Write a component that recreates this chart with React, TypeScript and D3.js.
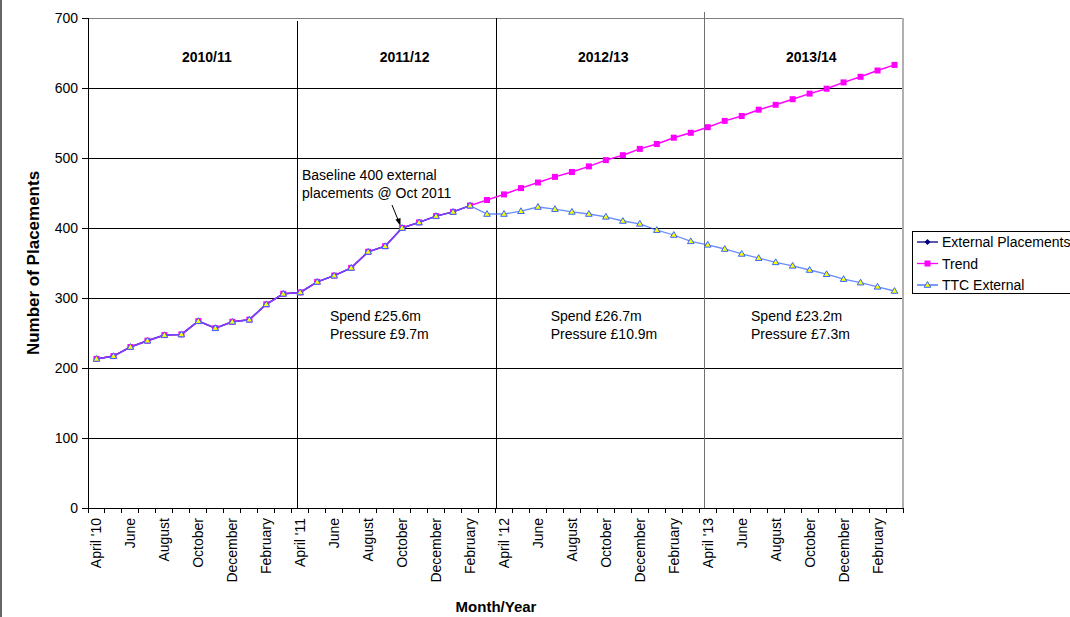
import React from "react";
import * as d3 from "d3";

const months: string[] = [
  "April '10", "May", "June", "July", "August", "September", "October", "November", "December", "January", "February", "March",
  "April '11", "May", "June", "July", "August", "September", "October", "November", "December", "January", "February", "March",
  "April '12", "May", "June", "July", "August", "September", "October", "November", "December", "January", "February", "March",
  "April '13", "May", "June", "July", "August", "September", "October", "November", "December", "January", "February", "March",
];

const externalPlacements: number[] = [
  213, 217, 230, 239, 247, 248, 267, 257, 266, 269, 291, 306,
  308, 323, 332, 343, 366, 374, 400, 408, 417, 423, 432,
];

const trend: number[] = [
  213, 217, 230, 239, 247, 248, 267, 257, 266, 269, 291, 306,
  308, 323, 332, 343, 366, 374, 400, 408, 417, 423, 432, 440,
  448, 457, 465, 473, 480, 488, 497, 504, 513, 520, 529, 536,
  544, 553, 560, 569, 576, 584, 592, 599, 608, 616, 625, 633,
];

const ttcExternal: number[] = [
  213, 217, 230, 239, 247, 248, 267, 257, 266, 269, 291, 306,
  308, 323, 332, 343, 366, 374, 400, 408, 417, 423, 432, 420,
  420, 424, 430, 427, 423, 420, 416, 410, 406, 397, 390, 381,
  376, 370, 363, 357, 351, 346, 340, 334, 327, 322, 316, 310,
];

const yTicks: number[] = [0, 100, 200, 300, 400, 500, 600, 700];

const yearLabels: string[] = ["2010/11", "2011/12", "2012/13", "2013/14"];
const yearLabelPos: number[] = [7.0, 18.65, 30.35, 42.6]; // in category units
const dividerPos: number[] = [12.35, 24.05, 36.3];

const spendLines: string[][] = [
  ["Spend £25.6m", "Pressure £9.7m"],
  ["Spend £26.7m", "Pressure £10.9m"],
  ["Spend £23.2m", "Pressure £7.3m"],
];
const spendPos: number[] = [14.25, 27.25, 39.05];

const legendNames: string[] = ["External Placements", "Trend", "TTC External"];

const FONT = "'Liberation Sans', Arial, Helvetica, sans-serif";

export default function App() {
  const W = 1070;
  const H = 617;
  const left = 88;
  const right = 903;
  const top = 18;
  const bottom = 508;

  const x = d3.scaleBand<string>().domain(months.map((_, i) => String(i))).range([left, right]).padding(0);
  const xu = d3.scaleLinear().domain([0, months.length]).range([left, right]);
  const y = d3.scaleLinear().domain([0, 700]).range([bottom, top]);
  const cx = (i: number) => (x(String(i)) as number) + x.bandwidth() / 2;

  const line = d3
    .line<number>()
    .x((_, i) => cx(i))
    .y((d) => y(d));

  const blue = "#3366FF";
  const magenta = "#FF00FF";
  const navy = "#000080";

  const tri = (px: number, py: number, s: number) =>
    `M${px},${py - s * 0.62}L${px + s * 0.6},${py + s * 0.42}L${px - s * 0.6},${py + s * 0.42}Z`;
  const diamond = (px: number, py: number, s: number) =>
    `M${px},${py - s}L${px + s},${py}L${px},${py + s}L${px - s},${py}Z`;

  return (
    <svg
      width={W}
      height={H}
      style={{ position: "absolute", left: 0, top: 0, display: "block", background: "#fff" }}
      fontFamily={FONT}
    >
      <rect x={0} y={0} width={W} height={H} fill="#fff" />
      <line x1={1} x2={1} y1={0} y2={H} stroke="#666" strokeWidth={2} />

      {/* gridlines */}
      {yTicks.filter((t) => t > 0 && t < 700).map((t) => (
        <line key={t} x1={left} x2={right} y1={y(t)} y2={y(t)} stroke="#000" strokeWidth={1} shapeRendering="crispEdges" />
      ))}
      <line x1={left} x2={right} y1={y(700)} y2={y(700)} stroke="#808080" strokeWidth={1} shapeRendering="crispEdges" />
      <line x1={right} x2={right} y1={top} y2={bottom} stroke="#b0b0b0" strokeWidth={1.5} shapeRendering="crispEdges" />

      {/* year dividers */}
      <line x1={xu(dividerPos[0])} x2={xu(dividerPos[0])} y1={21} y2={bottom} stroke="#000" strokeWidth={1} shapeRendering="crispEdges" />
      <line x1={xu(dividerPos[1])} x2={xu(dividerPos[1])} y1={top} y2={bottom} stroke="#000" strokeWidth={1} shapeRendering="crispEdges" />
      <line x1={xu(dividerPos[2])} x2={xu(dividerPos[2])} y1={12} y2={bottom} stroke="#707070" strokeWidth={1.5} shapeRendering="crispEdges" />

      {/* year labels */}
      {yearLabels.map((l, i) => (
        <text key={l} x={xu(yearLabelPos[i])} y={62} textAnchor="middle" fontSize={14} fontWeight="bold" fill="#000">
          {l}
        </text>
      ))}

      {/* spend labels */}
      {spendLines.map((ls, i) => (
        <g key={i}>
          {ls.map((s, j) => (
            <text key={j} x={xu(spendPos[i])} y={321 + j * 18} fontSize={14} fill="#000">
              {s}
            </text>
          ))}
        </g>
      ))}

      {/* annotation */}
      <text x={302} y={180} fontSize={14} fill="#000">Baseline 400 external</text>
      <text x={302} y={198} fontSize={14} fill="#000">placements @ Oct 2011</text>
      <line x1={392} y1={205} x2={398.5} y2={221} stroke="#000" strokeWidth={1} />
      <path d="M400.5,226 L395.5,219.5 L400.5,218 Z" fill="#000" />

      {/* axes */}
      <line x1={left} x2={left} y1={top} y2={bottom} stroke="#000" strokeWidth={1} shapeRendering="crispEdges" />
      <line x1={left} x2={right} y1={bottom} y2={bottom} stroke="#000" strokeWidth={1} shapeRendering="crispEdges" />
      {yTicks.map((t) => (
        <g key={t}>
          <line x1={left - 6} x2={left} y1={y(t)} y2={y(t)} stroke="#000" shapeRendering="crispEdges" />
          <text x={left - 10} y={y(t)} dy="0.36em" textAnchor="end" fontSize={14} fill="#000">
            {t}
          </text>
        </g>
      ))}
      {d3.range(months.length + 1).map((i) => (
        <line key={i} x1={xu(i)} x2={xu(i)} y1={bottom} y2={bottom + 5} stroke="#000" shapeRendering="crispEdges" />
      ))}
      {months.map((m, i) =>
        i % 2 === 0 ? (
          <text
            key={i}
            transform={`translate(${cx(i) + 5},${bottom + 10}) rotate(-90)`}
            textAnchor="end"
            fontSize={14}
            fill="#000"
          >
            {m}
          </text>
        ) : null
      )}

      <text transform={`translate(39,263) rotate(-90)`} textAnchor="middle" fontSize={17} fontWeight="bold" fill="#000">
        Number of Placements
      </text>
      <text x={496} y={612} textAnchor="middle" fontSize={15} fontWeight="bold" fill="#000">
        Month/Year
      </text>

      {/* series */}
      <path d={line(externalPlacements) || ""} fill="none" stroke={navy} strokeWidth={1.5} />
      {externalPlacements.map((d, i) => (
        <path key={i} d={diamond(cx(i), y(d), 3)} fill={navy} />
      ))}
      <path d={line(trend) || ""} fill="none" stroke={magenta} strokeWidth={1.5} />
      {trend.map((d, i) => (
        <rect key={i} x={cx(i) - 3} y={y(d) - 3} width={6} height={6} fill={magenta} />
      ))}
      <path d={line(ttcExternal) || ""} fill="none" stroke={blue} strokeWidth={1.3} strokeOpacity={0.75} />
      {ttcExternal.map((d, i) => (
        <path key={i} d={tri(cx(i), y(d), 5.5)} fill="#FFFF00" stroke={blue} strokeWidth={1} />
      ))}

      {/* legend */}
      <rect x={912.5} y={231.5} width={170} height={62} fill="#fff" stroke="#000" strokeWidth={1} />
      {legendNames.map((n, i) => {
        const ly = 242 + i * 21.5;
        return (
          <g key={n}>
            <line x1={917} x2={938} y1={ly} y2={ly} stroke={i === 0 ? navy : i === 1 ? magenta : blue} strokeWidth={1.3} />
            {i === 0 && <path d={diamond(927.5, ly, 3)} fill={navy} />}
            {i === 1 && <rect x={924.5} y={ly - 3} width={6} height={6} fill={magenta} />}
            {i === 2 && <path d={tri(927.5, ly, 5.5)} fill="#FFFF00" stroke={blue} strokeWidth={1} />}
            <text x={942} y={ly} dy="0.36em" fontSize={14} fill="#000">
              {n}
            </text>
          </g>
        );
      })}
    </svg>
  );
}
